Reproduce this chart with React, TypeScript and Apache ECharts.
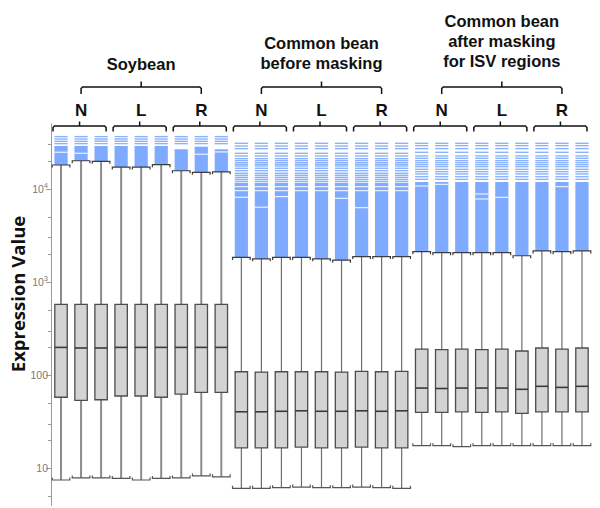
import React, { useEffect, useRef } from "react";
import * as echarts from "echarts";

const groupNames = ["Soybean", "Common bean\nbefore masking", "Common bean\nafter masking\nfor ISV regions"];
const tissueNames = ["N", "L", "R"];
const categories = [
  "Soy-N-1", "Soy-N-2", "Soy-N-3", "Soy-L-1", "Soy-L-2", "Soy-L-3", "Soy-R-1", "Soy-R-2", "Soy-R-3",
  "CbB-N-1", "CbB-N-2", "CbB-N-3", "CbB-L-1", "CbB-L-2", "CbB-L-3", "CbB-R-1", "CbB-R-2", "CbB-R-3",
  "CbA-N-1", "CbA-N-2", "CbA-N-3", "CbA-L-1", "CbA-L-2", "CbA-L-3", "CbA-R-1", "CbA-R-2", "CbA-R-3",
];

const lowerWhisker = [
  7.5, 7.9, 7.9, 7.8, 7.5, 7.8, 7.9, 8.3, 8.1,
  6.1, 6.1, 6.2, 6.3, 6.2, 6.2, 6.3, 6.2, 6.1,
  17.5, 17.5, 17.1, 17.5, 17.5, 17.5, 17.5, 17.5, 17.5,
];
const q1Values = [
  58, 53.7, 54.5, 59.8, 59.8, 58, 62.8, 65.5, 65.5,
  16.6, 16.6, 16.6, 16.9, 16.6, 16.6, 16.9, 16.6, 16.6,
  39.9, 40, 40.5, 40, 40.5, 39, 40.5, 40.5, 40.5,
];
const medianValues = [
  199, 196, 196, 199, 199, 199, 199, 199, 199,
  40.5, 40.5, 41, 41.5, 41, 41, 41.5, 41, 41.5,
  72.8, 72, 72.8, 72.8, 72.8, 70.6, 76, 74, 76,
];
const q3Values = [
  578, 578, 578, 578, 578, 578, 578, 578, 578,
  109, 108, 109, 109, 109, 108, 110, 109, 110,
  191, 188, 191, 188, 191, 182, 196, 191, 196,
];
const upperWhisker = [
  18100, 20100, 19800, 17200, 17200, 18250, 15700, 15100, 15300,
  1840, 1780, 1840, 1840, 1780, 1720, 1880, 1880, 1880,
  2120, 2070, 2070, 2070, 2070, 1920, 2160, 2120, 2160,
];
// top of the solid run of outliers directly above each upper whisker
const outlierDenseTop = [
  29000, 29000, 29000, 29000, 29000, 29000, 26700, 28500, 26700,
  11700, 11700, 11700, 11700, 11700, 11700, 11700, 11700, 11700,
  11890, 11890, 11890, 11890, 11890, 11890, 11890, 11890, 11890,
];
// values inside the solid run where no outlier falls
const outlierGaps: number[][] = [
  [24800], [24200], [], [], [], [], [], [23600], [25000],
  [10590, 9600, 8150], [10590, 9600, 6370], [10590, 9600, 8280], [10590, 9600], [10590, 9600],
  [10590, 9600, 7940], [10590, 9600, 6300], [10590, 9600], [10590, 9600],
  [10770], [11220], [], [8840, 7810], [8140], [], [], [10600], [],
];
// separate outliers above the solid run
const soybeanOutliers = [36500, 34400, 32500, 30700];
const beforeMaskingOutliers = [
  30940, 28960, 27120, 24160, 22620, 21180, 20160, 19180, 18410, 17660,
  16680, 15740, 14740, 14030, 13350, 12700, 12090,
];
const afterMaskingOutliers = [
  30940, 29210, 27120, 24770, 22620, 21350, 20160, 19180, 18250, 17370,
  16270, 15360, 14490, 13560, 12700,
];

const yMin = 4;
const yMax = 50000;
const majorTickValues = [10, 100, 1000, 10000];
const minorTickValues = [5, 20, 30, 50, 200, 300, 500, 2000, 3000, 5000, 20000, 30000];

const BLUE = "#7eaaff";

export default function App() {
  const ref = useRef<HTMLDivElement>(null);

  useEffect(() => {
    document.body.style.margin = "0";
    const chart = echarts.init(ref.current!, null, { renderer: "svg" });
    const sparseByGroup = [soybeanOutliers, beforeMaskingOutliers, afterMaskingOutliers];

    const data = categories.map((_, i) => [
      i, lowerWhisker[i], q1Values[i], medianValues[i], q3Values[i], upperWhisker[i], outlierDenseTop[i],
    ]);

    const renderItem = (params: any, api: any) => {
      const i = params.dataIndex;
      const idx = api.value(0);
      const g = Math.floor(i / 9);
      const yv = (v: number) => api.coord([idx, v])[1];
      const x = api.coord([idx, 100])[0];
      const band = api.size([1, 0])[0];
      const hb = band * 0.31;
      const hc = band * 0.44;
      const ho = band * 0.33;
      const lo = yv(api.value(1));
      const q1 = yv(api.value(2));
      const med = yv(api.value(3));
      const q3 = yv(api.value(4));
      const hi = yv(api.value(5));
      const dense = yv(api.value(6));
      const whiskerColor = g === 0 ? "#8c8c8c" : "#6e6e6e";
      const whiskerWidth = g === 0 ? 2 : 1.2;
      const children: any[] = [];
      sparseByGroup[g].forEach((v) => {
        children.push({
          type: "rect",
          shape: { x: x - ho, y: yv(v) - 0.7, width: ho * 2, height: 1.4 },
          style: { fill: BLUE, opacity: 0.9 },
        });
      });
      children.push({
        type: "rect",
        shape: { x: x - ho, y: dense, width: ho * 2, height: hi - dense },
        style: { fill: BLUE },
      });
      outlierGaps[i].forEach((v) => {
        children.push({
          type: "rect",
          shape: { x: x - ho, y: yv(v) - 0.6, width: ho * 2, height: 1.2 },
          style: { fill: "#ffffff", opacity: 0.85 },
        });
      });
      children.push({
        type: "line",
        shape: { x1: x, y1: q3, x2: x, y2: hi },
        style: { stroke: whiskerColor, lineWidth: whiskerWidth },
      });
      children.push({
        type: "line",
        shape: { x1: x, y1: q1, x2: x, y2: lo },
        style: { stroke: whiskerColor, lineWidth: whiskerWidth },
      });
      children.push({
        type: "polyline",
        shape: { points: [[x - hc, hi + 2.5], [x - hc, hi], [x + hc, hi], [x + hc, hi + 2.5]] },
        style: { stroke: "#3c3c3c", lineWidth: 1.2, fill: null },
      });
      children.push({
        type: "polyline",
        shape: { points: [[x - hc, lo - 2.5], [x - hc, lo], [x + hc, lo], [x + hc, lo - 2.5]] },
        style: { stroke: "#555555", lineWidth: 1.2, fill: null },
      });
      children.push({
        type: "rect",
        shape: { x: x - hb, y: q3, width: hb * 2, height: q1 - q3 },
        style: { fill: "#d3d3d3", stroke: "#4d4d4d", lineWidth: 1.3 },
      });
      children.push({
        type: "line",
        shape: { x1: x - hb, y1: med, x2: x + hb, y2: med },
        style: { stroke: "#3a3a3a", lineWidth: 1.6 },
      });
      return { type: "group", children };
    };

    const labelFormatter = (v: number) => {
      const p = Math.round(Math.log10(v));
      return v >= 1000 ? `10{sup|${p}}` : String(Math.round(v));
    };

    chart.setOption({
      animation: false,
      grid: { left: 51, width: 541, top: 123.9, height: 381.5 },
      xAxis: {
        type: "category",
        data: categories,
        show: false,
      },
      yAxis: [
        {
          type: "log",
          logBase: 10,
          min: yMin,
          max: yMax,
          axisLine: { show: true, lineStyle: { color: "#9a9a9a", width: 1 } },
          axisTick: { show: true, customValues: majorTickValues, length: 5, lineStyle: { color: "#9a9a9a" } },
          axisLabel: {
            customValues: majorTickValues,
            formatter: labelFormatter,
            color: "#7a7a7a",
            fontSize: 10.5,
            fontFamily: "Liberation Sans",
            margin: 3,
            rich: {
              sup: { fontSize: 7.5, color: "#7a7a7a", padding: [0, 0, 7, 0], fontFamily: "Liberation Sans" },
            },
          },
          splitLine: { show: false },
          minorTick: { show: false },
        },
        {
          type: "log",
          logBase: 10,
          min: yMin,
          max: yMax,
          position: "left",
          axisLine: { show: false },
          axisTick: { show: true, customValues: minorTickValues, length: 3, lineStyle: { color: "#9a9a9a" } },
          axisLabel: { show: false },
          splitLine: { show: false },
        },
      ],
      series: [
        {
          type: "custom",
          renderItem,
          data,
          encode: { x: 0, y: [1, 2, 3, 4, 5, 6] },
          clip: false,
        },
      ],
    });

    const cx = (i: number) => chart.convertToPixel({ xAxisIndex: 0 }, i) as number;
    const graphics: any[] = [];
    const black = "#111111";
    const groupLastLineCenter = [64, 63, 60.5];
    const lineStep = 19.6;
    graphics.push({
      type: "text",
      x: 17,
      y: 294,
      rotation: Math.PI / 2,
      style: {
        text: "Expression Value",
        font: 'bold 18.5px "Open Sans"',
        fill: black,
        align: "center",
        textAlign: "center",
        verticalAlign: "middle",
        textVerticalAlign: "middle",
      },
    });
    for (let g = 0; g < 3; g++) {
      const gx = cx(g * 9 + 4);
      const lines = groupNames[g].split("\n");
      lines.forEach((line, k) => {
        graphics.push({
          type: "text",
          x: gx,
          y: groupLastLineCenter[g] - (lines.length - 1 - k) * lineStep,
          style: {
            text: line,
            font: 'bold 16.5px "Liberation Sans"',
            fill: black,
            align: "center",
            textAlign: "center",
            verticalAlign: "middle",
            textVerticalAlign: "middle",
          },
        });
      });
      const x1 = cx(g * 9 + 1);
      const x2 = cx(g * 9 + 7);
      const by = 87;
      graphics.push({
        type: "polyline",
        shape: { points: [[x1, by + 7], [x1, by + 1.5], [x1 + 1.5, by], [x2 - 1.5, by], [x2, by + 1.5], [x2, by + 7]] },
        style: { stroke: black, lineWidth: 1.5, fill: null },
      });
      graphics.push({
        type: "line",
        shape: { x1: (x1 + x2) / 2, y1: by, x2: (x1 + x2) / 2, y2: by - 5.5 },
        style: { stroke: black, lineWidth: 1.5 },
      });
      for (let t = 0; t < 3; t++) {
        const first = g * 9 + t * 3;
        const tx = cx(first + 1);
        graphics.push({
          type: "text",
          x: tx,
          y: 110,
          style: {
            text: tissueNames[t],
            font: 'bold 17px "Liberation Sans"',
            fill: black,
            align: "center",
            textAlign: "center",
            verticalAlign: "middle",
            textVerticalAlign: "middle",
          },
        });
        const sx1 = cx(first) - 8;
        const sx2 = cx(first + 2) + 5;
        const sy = 126;
        graphics.push({
          type: "polyline",
          shape: { points: [[sx1, sy + 5.5], [sx1, sy + 1.5], [sx1 + 1.5, sy], [sx2 - 1.5, sy], [sx2, sy + 1.5], [sx2, sy + 5.5]] },
          style: { stroke: black, lineWidth: 1.5, fill: null },
        });
        graphics.push({
          type: "line",
          shape: { x1: (sx1 + sx2) / 2, y1: sy, x2: (sx1 + sx2) / 2, y2: sy - 4.5 },
          style: { stroke: black, lineWidth: 1.5 },
        });
      }
    }
    chart.setOption({ graphic: graphics });

    return () => chart.dispose();
  }, []);

  return <div ref={ref} style={{ width: 600, height: 508 }} />;
}
